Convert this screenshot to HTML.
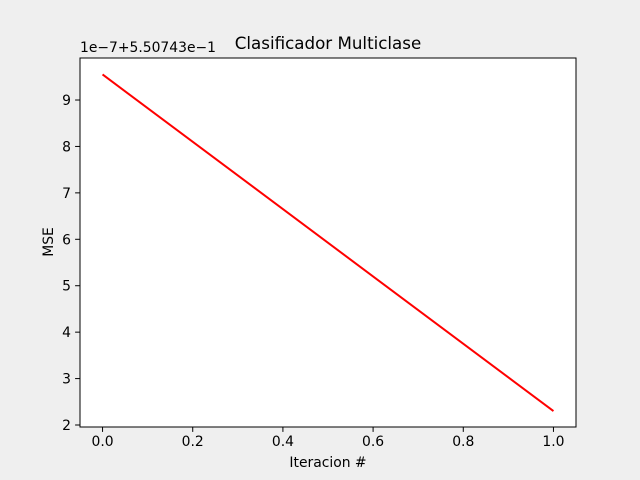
<!DOCTYPE html>
<html><head><meta charset="utf-8"><style>
body{margin:0;background:#efefef;}
svg{display:block;font-family:"DejaVu Sans","Liberation Sans",sans-serif;}
</style></head><body>
<svg width="640" height="480">
<rect width="640" height="480" fill="#efefef"/>
<rect x="80" y="58" width="496" height="369" fill="#fff" stroke="#000" stroke-width="1"/>
<text x="328" y="49" text-anchor="middle" font-size="16.7">Clasificador Multiclase</text>
<text x="80" y="52" font-size="13.9">1e−7+5.50743e−1</text>
<text x="328" y="467" text-anchor="middle" font-size="13.9">Iteracion #</text>
<text x="53" y="242" text-anchor="middle" font-size="13.9" transform="rotate(-90 53 242)">MSE</text>
<g id="ticks"></g>
<g id="series"></g>
</svg>
<script>
const xValues=[0,1];
const yValues=[9.55,2.3];
const xTicks=[0,0.2,0.4,0.6,0.8,1.0];
const xTickLabels=["0.0","0.2","0.4","0.6","0.8","1.0"];
const yTicks=[2,3,4,5,6,7,8,9];
const yTickLabels=["2","3","4","5","6","7","8","9"];
const X0=80,X1=576,Y0=427,Y1=58;
const xmin=-0.05,xmax=1.05,ymin=1.957,ymax=9.905;
const sx=v=>X0+(v-xmin)/(xmax-xmin)*(X1-X0);
const sy=v=>Y0-(v-ymin)/(ymax-ymin)*(Y0-Y1);
const ns="http://www.w3.org/2000/svg";
const tg=document.getElementById('ticks');
function mk(t,a,p){const e=document.createElementNS(ns,t);for(const k in a)e.setAttribute(k,a[k]);p.appendChild(e);return e;}
xTicks.forEach((v,i)=>{const x=sx(v);
const l=mk('line',{x1:x,x2:x,y1:Y0,y2:Y0+4.9,stroke:'#000'},tg);


const t=mk('text',{x:x,y:Y0+19,'text-anchor':'middle','font-size':13.9},tg);t.textContent=xTickLabels[i];

});
yTicks.forEach((v,i)=>{const y=sy(v);
const l=mk('line',{x1:X0-4.9,x2:X0,y1:y,y2:y,stroke:'#000'},tg);


const t=mk('text',{x:X0-9,y:y+5,'text-anchor':'end','font-size':13.9},tg);t.textContent=yTickLabels[i];

});
const pts=xValues.map((v,i)=>sx(v)+','+sy(yValues[i])).join(' ');
const pl=mk('polyline',{points:pts,fill:'none',stroke:'#ff0000','stroke-width':2},document.getElementById('series'));


</script>
</body></html>
